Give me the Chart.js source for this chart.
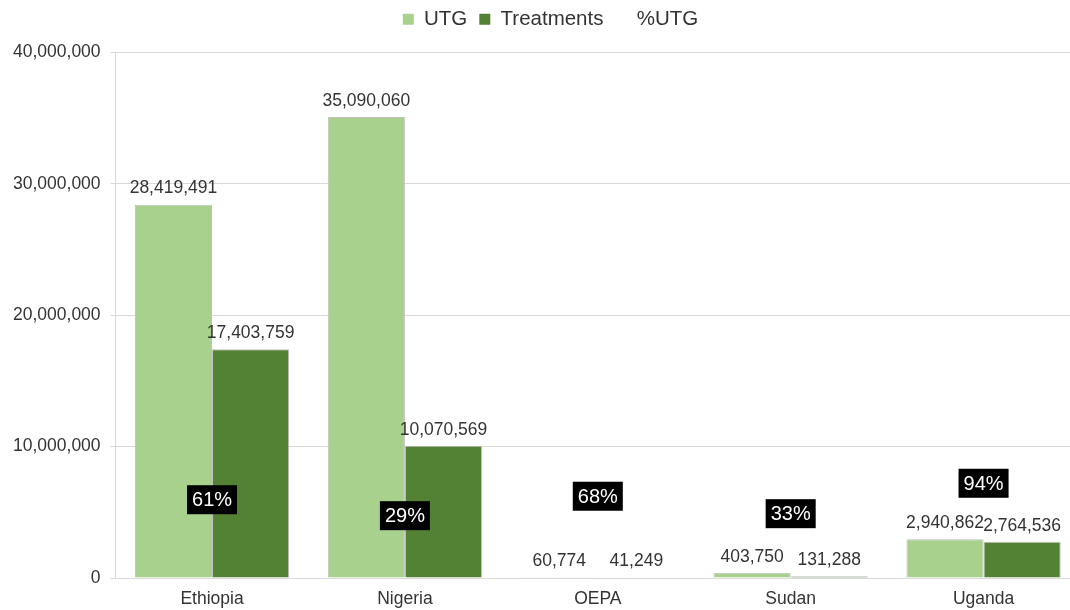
<!DOCTYPE html>
<html>
<head>
<meta charset="utf-8">
<script src="https://cdn.jsdelivr.net/npm/chart.js@4.4.1/dist/chart.umd.min.js"></script>
<style>
  html, body { margin: 0; padding: 0; background: #ffffff; overflow: hidden; width: 1070px; height: 610px; }
  #wrap { width: 1082px; height: 610px; }
  canvas { display: block; }
</style>
</head>
<body>
<div id="wrap"><canvas id="c" width="1082" height="610"></canvas></div>
<script>
const categories = ['Ethiopia', 'Nigeria', 'OEPA', 'Sudan', 'Uganda'];
const utgValues = [28419491, 35090060, 60774, 403750, 2940862];
const treatmentValues = [17403759, 10070569, 41249, 131288, 2764536];
const pctUtgValues = [61, 29, 68, 33, 94];
const yTickValues = [0, 10000000, 20000000, 30000000, 40000000];

const FONT = "'Liberation Sans', Arial, sans-serif";
const TEXT = '#333333';

function fmt(n) { return n.toLocaleString('en-US'); }

const legendSpacer = {
  id: 'legendSpacer',
  beforeInit(chart) {
    const origFit = chart.legend.fit;
    chart.legend.fit = function () {
      origFit.bind(chart.legend)();
      this.height += 13;
    };
  },
  afterLayout(chart) {
    chart.legend.left += 9;
    chart.legend.right += 9;
  }
};

const labelPlugin = {
  id: 'labels',
  afterDatasetsDraw(chart) {
    const ctx = chart.ctx;
    ctx.save();
    [0, 1].forEach(di => {
      const meta = chart.getDatasetMeta(di);
      const ds = chart.data.datasets[di];
      meta.data.forEach((el, i) => {
        ctx.font = '17.5px ' + FONT;
        ctx.fillStyle = TEXT;
        ctx.textAlign = 'center';
        ctx.textBaseline = 'middle';
        ctx.fillText(fmt(ds.data[i]), el.x, el.y - 16);
      });
    });
    const pm = chart.getDatasetMeta(2);
    const pds = chart.data.datasets[2];
    pm.data.forEach((el, i) => {
      const t = pds.data[i] + '%';
      ctx.font = '20px ' + FONT;
      const w = ctx.measureText(t).width + 10;
      const h = 29;
      ctx.fillStyle = '#000000';
      ctx.fillRect(el.x - w / 2, el.y - h / 2, w, h);
      ctx.fillStyle = '#ffffff';
      ctx.textAlign = 'center';
      ctx.textBaseline = 'middle';
      ctx.fillText(t, el.x, el.y + 1);
    });
    ctx.restore();
  }
};

new Chart(document.getElementById('c'), {
  type: 'bar',
  data: {
    labels: categories,
    datasets: [
      {
        label: 'UTG', data: utgValues,
        backgroundColor: '#a9d18e', borderColor: '#bfbfbf', borderWidth: 1,
        categoryPercentage: 0.8, barPercentage: 1.0, order: 2
      },
      {
        label: 'Treatments', data: treatmentValues,
        backgroundColor: '#548235', borderColor: '#bfbfbf', borderWidth: 1,
        categoryPercentage: 0.8, barPercentage: 1.0, order: 2
      },
      {
        label: '%UTG', type: 'line', data: pctUtgValues, yAxisID: 'y2',
        showLine: false, pointRadius: 0, borderColor: 'transparent',
        backgroundColor: 'transparent', order: 1
      }
    ]
  },
  options: {
    responsive: false,
    animation: false,
    layout: { padding: { left: 3, right: 2, top: -3, bottom: -3 } },
    plugins: {
      tooltip: { enabled: false },
      legend: {
        position: 'top',
        labels: {
          font: { family: FONT, size: 20.5 },
          color: TEXT,
          boxWidth: 11,
          boxHeight: 11,
          padding: 12,
          generateLabels(chart) {
            return chart.data.datasets.map((ds, i) => ({
              text: ds.label,
              fillStyle: i === 2 ? 'rgba(0,0,0,0)' : ds.backgroundColor,
              strokeStyle: 'rgba(0,0,0,0)',
              lineWidth: 0,
              hidden: false,
              datasetIndex: i,
              fontColor: TEXT
            }));
          }
        }
      }
    },
    scales: {
      x: {
        offset: true,
        grid: { display: false },
        border: { display: true, color: '#d9d9d9' },
        ticks: { font: { family: FONT, size: 17.5 }, color: TEXT, padding: 3 }
      },
      y: {
        min: 0, max: 40000000,
        afterBuildTicks(axis) { axis.ticks = yTickValues.map(v => ({ value: v })); },
        grid: { color: '#d9d9d9', tickLength: 5, tickColor: '#d9d9d9' },
        border: { display: true, color: '#d9d9d9' },
        ticks: {
          font: { family: FONT, size: 17.5 }, color: TEXT, padding: 10,
          callback: v => fmt(v)
        }
      },
      y2: {
        display: false, min: -96, max: 958
      }
    }
  },
  plugins: [legendSpacer, labelPlugin]
});
</script>
</body>
</html>
